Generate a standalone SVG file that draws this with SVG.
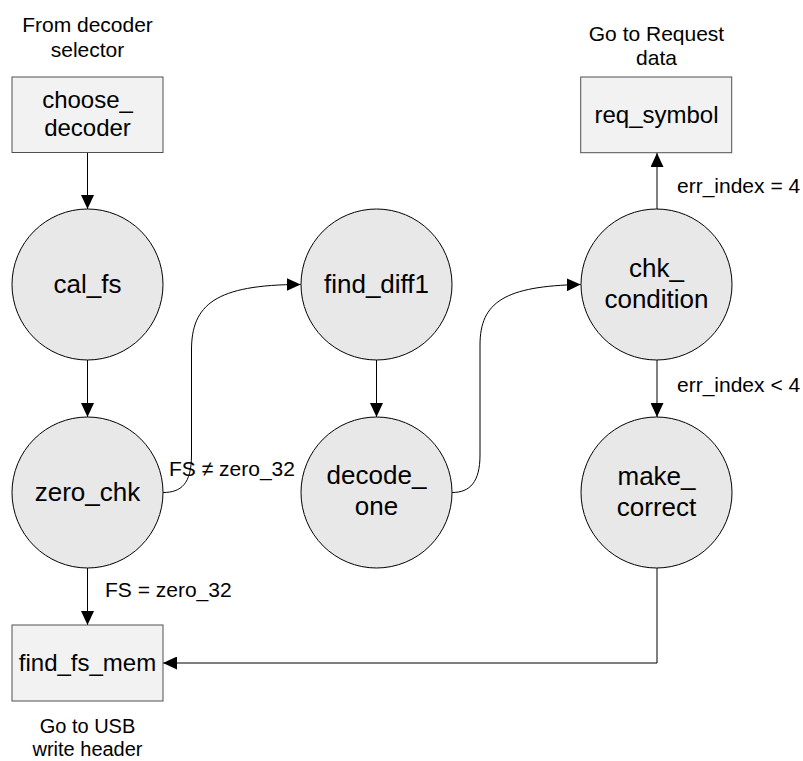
<svg xmlns="http://www.w3.org/2000/svg" width="803" height="761" viewBox="0 0 803 761">
  <defs>
    <marker id="arrow" markerUnits="userSpaceOnUse" markerWidth="14" markerHeight="13" refX="14" refY="6.5" orient="auto">
      <path d="M0,0 L14,6.5 L0,13 z" fill="#000"/>
    </marker>
  </defs>
  <style>
    .state { fill: #e8e8e8; stroke: #000; stroke-width: 1; }
    .io { fill: #f2f2f2; stroke: #505050; stroke-width: 1; }
    .name { font-family: "Liberation Sans", Arial, sans-serif; font-size: 26px; fill: #000; text-anchor: middle; }
    .boxname { font-family: "Liberation Sans", Arial, sans-serif; font-size: 24px; fill: #000; text-anchor: middle; }
    .note { font-family: "Liberation Sans", Arial, sans-serif; font-size: 21px; fill: #000; }
    .small { font-size: 20px; }
    .mid { text-anchor: middle; }
    .wire { fill: none; stroke: #000; stroke-width: 1; marker-end: url(#arrow); }
  </style>

  <rect width="803" height="761" fill="#fff"/>

  <!-- connectors and their condition labels -->
  <g id="connectors">
    <line class="wire" x1="87.5" y1="152.5" x2="87.5" y2="209"/>
    <line class="wire" x1="87.5" y1="360" x2="87.5" y2="417"/>
    <line class="wire" x1="87.5" y1="568" x2="87.5" y2="625"/>
    <path class="wire" d="M163,492.5 C181,492.5 191.5,484 191.5,455 L191.5,350 C191.5,305 215,284.5 300.7,284.5"/>
    <line class="wire" x1="376.5" y1="360" x2="376.5" y2="417"/>
    <path class="wire" d="M452,492.5 C470,492.5 480,482 480,455 L480,345 C480,302 505,286 580.7,284.5"/>
    <line class="wire" x1="657" y1="209" x2="657" y2="153"/>
    <line class="wire" x1="657" y1="360" x2="657" y2="417"/>
    <path class="wire" d="M657,568 L657,663 L163,663"/>
    <text class="note" x="105" y="597">FS = zero_32</text>
    <text class="note" x="169" y="476">FS ≠ zero_32</text>
    <text class="note" x="677" y="193">err_index = 4</text>
    <text class="note" x="677" y="392">err_index &lt; 4</text>
  </g>

  <!-- entry box -->
  <g id="choose_decoder">
    <text class="note mid" x="87.5" y="32">From decoder</text>
    <text class="note mid" x="87.5" y="57">selector</text>
    <rect class="io" x="12" y="77" width="151" height="75.5"/>
    <text class="boxname" x="87.5" y="108">choose_</text>
    <text class="boxname" x="87.5" y="136">decoder</text>
  </g>

  <g id="cal_fs">
    <circle class="state" cx="87.5" cy="284.5" r="75.5"/>
    <text class="name" x="87.5" y="293">cal_fs</text>
  </g>

  <g id="zero_chk">
    <circle class="state" cx="87.5" cy="492.5" r="75.5"/>
    <text class="name" x="87.5" y="501">zero_chk</text>
  </g>

  <g id="find_fs_mem">
    <rect class="io" x="12" y="625" width="151" height="76"/>
    <text class="boxname" x="87.5" y="671">find_fs_mem</text>
    <text class="note small mid" x="87.5" y="733">Go to USB</text>
    <text class="note small mid" x="87.5" y="756">write header</text>
  </g>

  <g id="find_diff1">
    <circle class="state" cx="376.5" cy="284.5" r="75.5"/>
    <text class="name" x="376.5" y="293">find_diff1</text>
  </g>

  <g id="decode_one">
    <circle class="state" cx="376.5" cy="492.5" r="75.5"/>
    <text class="name" x="376.5" y="484">decode_</text>
    <text class="name" x="376.5" y="515">one</text>
  </g>

  <g id="chk_condition">
    <circle class="state" cx="656.5" cy="284.5" r="75.5"/>
    <text class="name" x="656.5" y="277">chk_</text>
    <text class="name" x="656.5" y="308">condition</text>
  </g>

  <g id="make_correct">
    <circle class="state" cx="656.5" cy="492.5" r="75.5"/>
    <text class="name" x="656.5" y="485">make_</text>
    <text class="name" x="656.5" y="516">correct</text>
  </g>

  <g id="req_symbol">
    <text class="note mid" x="656.5" y="41">Go to Request</text>
    <text class="note mid" x="656.5" y="65">data</text>
    <rect class="io" x="580.7" y="77" width="151" height="75.7"/>
    <text class="boxname" x="656.5" y="123">req_symbol</text>
  </g>
</svg>
